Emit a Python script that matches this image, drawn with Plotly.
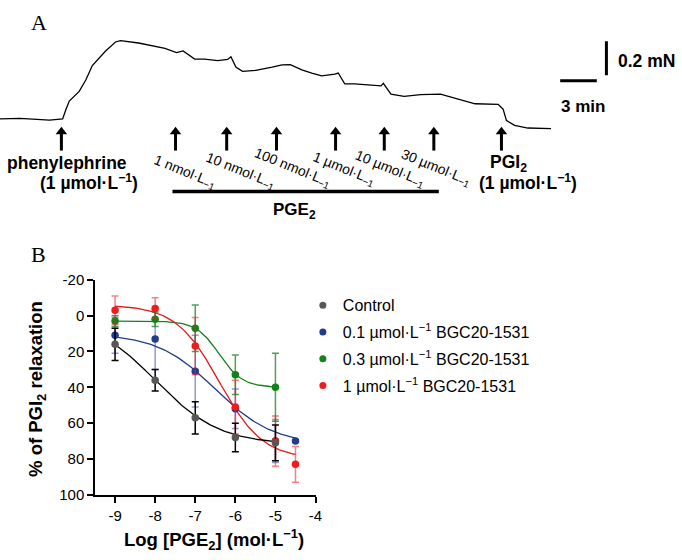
import numpy as np
import plotly.graph_objects as go

W, H = 682, 560

# ---------------- Panel A data: isometric tension trace ----------------
trace_time_min = [0.000, 1.622, 4.054, 5.133, 5.408, 5.676, 6.487, 7.030, 7.565, 8.651,
                  9.462, 9.868, 11.352, 12.430, 13.516, 14.457, 15.000, 15.949, 16.760, 17.838,
                  18.649, 18.917, 19.322, 19.865, 20.944, 22.298, 23.109, 23.782, 24.730, 25.541,
                  26.352, 27.431, 27.706, 28.241, 29.052, 30.139, 31.217, 31.403, 32.028, 33.106,
                  34.460, 36.082, 36.893, 37.566, 38.920, 40.809, 41.215, 41.490, 42.163, 43.242,
                  45.139]
trace_tension_mN = [0.000, 0.003, -0.008, 0.000, 0.057, 0.105, 0.162, 0.229, 0.314, 0.400,
                    0.453, 0.461, 0.447, 0.429, 0.415, 0.390, 0.400, 0.352, 0.352, 0.343,
                    0.350, 0.366, 0.305, 0.280, 0.286, 0.305, 0.318, 0.320, 0.289, 0.270,
                    0.253, 0.263, 0.270, 0.206, 0.206, 0.200, 0.194, 0.209, 0.146, 0.133,
                    0.143, 0.146, 0.129, 0.114, 0.089, 0.086, 0.057, -0.010, -0.038, -0.054,
                    -0.057]
addition_times_min = [5.03, 14.38, 18.57, 22.65, 27.49, 31.48, 35.54, 41.08]
pge2_labels = ["1 nmol·L<sub>−1</sub>", "10 nmol·L<sub>−1</sub>", "100 nmol·L<sub>−1</sub>",
               "1 µmol·L<sub>−1</sub>", "10 µmol·L<sub>−1</sub>", "30 µmol·L<sub>−1</sub>"]
pge2_period_min = [14.13, 35.95]
scale_time_min = 3
scale_tension_mN = 0.2

# ---------------- Panel B data: concentration-response ----------------
series_names = ["Control", "0.1 µmol·L<sup>−1</sup> BGC20-1531",
                "0.3 µmol·L<sup>−1</sup> BGC20-1531", "1 µmol·L<sup>−1</sup> BGC20-1531"]
control_x = [-9, -8, -7, -6, -5]
control_mean = [16, 36, 57, 68, 71]
control_sem = [9, 6, 9, 8, 10]
bgc01_x = [-9, -8, -7, -6, -5, -4.5]
bgc01_mean = [11, 13, 31, 52, 70, 70]
bgc01_sem = [10, 17, 20, 11, 12, 0]
bgc03_x = [-9, -8, -7, -6, -5]
bgc03_mean = [3, 2, 7, 33, 40]
bgc03_sem = [3, 4, 13, 11, 19]
bgc1_x = [-9, -8, -7, -6, -5, -4.5]
bgc1_mean = [-3, -4, 17, 51, 70, 83]
bgc1_sem = [8, 6, 16, 15, 14, 10]
# fitted sigmoid parameters: bottom, top, logEC50, Hill slope
control_fit = [0, 72, -8.0, 0.54]
bgc01_fit = [10, 72, -6.5, 0.6]
bgc03_fit = [3, 40, -6.4, 1.5]
bgc1_fit = [-6, 80, -6.4, 0.8]
x_ticks = [-9, -8, -7, -6, -5, -4]
y_ticks = [-20, 0, 20, 40, 60, 80, 100]

# ---------------- styles / layout constants ----------------
FONT = "Liberation Sans, Arial, sans-serif"
SERIF = "Liberation Serif, Times New Roman, serif"
PX_PER_MIN = 37 / 3
PX_PER_MN = 175.0
BASE_Y_PX = 113.3


def ty(px):
    return (BASE_Y_PX - px) / PX_PER_MN


def tx(px):
    return px / PX_PER_MIN


def px_x(px):
    return px / W


def px_y(px):
    return 1 - px / H


fig = go.Figure()

# Panel A trace
fig.add_trace(go.Scatter(x=trace_time_min, y=trace_tension_mN, mode="lines",
                         line=dict(color="black", width=1.3), xaxis="x2", yaxis="y2",
                         showlegend=False, hoverinfo="skip"))
# arrows
sx, sy = [], []
for t in addition_times_min:
    sx += [t, t, None]
    sy += [ty(128), ty(146), None]
fig.add_trace(go.Scatter(x=sx, y=sy, mode="lines", line=dict(color="black", width=3),
                         xaxis="x2", yaxis="y2", showlegend=False, hoverinfo="skip"))
fig.add_trace(go.Scatter(x=addition_times_min, y=[ty(126.5)] * len(addition_times_min),
                         mode="markers", marker=dict(symbol="triangle-up", size=10, color="black"),
                         xaxis="x2", yaxis="y2", showlegend=False, hoverinfo="skip"))
# PGE2 bar
fig.add_trace(go.Scatter(x=pge2_period_min, y=[ty(188.3)] * 2, mode="lines",
                         line=dict(color="black", width=3.5), xaxis="x2", yaxis="y2",
                         showlegend=False, hoverinfo="skip"))
# scale bars
vb_x = tx(612.7)
vb_top = ty(33.3)
fig.add_trace(go.Scatter(x=[vb_x, vb_x], y=[vb_top, vb_top - scale_tension_mN], mode="lines",
                         line=dict(color="black", width=3), xaxis="x2", yaxis="y2",
                         showlegend=False, hoverinfo="skip"))
hb_x0 = tx(566)
fig.add_trace(go.Scatter(x=[hb_x0, hb_x0 + scale_time_min], y=[ty(74)] * 2, mode="lines",
                         line=dict(color="black", width=3), xaxis="x2", yaxis="y2",
                         showlegend=False, hoverinfo="skip"))

# Panel B
series = [
    (bgc01_x, bgc01_mean, bgc01_sem, bgc01_fit, "#1f3c8f", "#1f3c8f", "rgba(31,60,143,0.5)"),
    (bgc03_x, bgc03_mean, bgc03_sem, bgc03_fit, "#13821b", "#13821b", "rgba(19,130,27,0.75)"),
    (bgc1_x, bgc1_mean, bgc1_sem, bgc1_fit, "#ee1c1c", "#e81818", "rgba(238,28,28,0.55)"),
    (control_x, control_mean, control_sem, control_fit, "#575757", "black", "black"),
]


def sigmoid(x, p):
    b, t, ec, h = p
    return b + (t - b) / (1 + 10 ** ((ec - x) * h))


for xs, m, e, p, pc, cc, ec in series:
    xx = np.linspace(min(xs), max(xs), 120)
    fig.add_trace(go.Scatter(x=xx, y=sigmoid(xx, p), mode="lines",
                             line=dict(color=cc, width=1.3), showlegend=False, hoverinfo="skip"))
for xs, m, e, p, pc, cc, ec in series:
    fig.add_trace(go.Scatter(x=xs, y=m, mode="markers", marker=dict(size=7.5, color=pc),
                             error_y=dict(type="data", array=e, visible=True, color=ec,
                                          thickness=1.5, width=3.5),
                             showlegend=False))

legend_colors = ["#575757", "#1f3c8f", "#13821b", "#ee1c1c"]
for i, (name, col) in enumerate(zip(series_names, legend_colors)):
    fig.add_trace(go.Scatter(x=[None], y=[None], mode="markers", name=name,
                             marker=dict(size=7, color=col), legendgroup=f"g{i}"))

ann = []


def text(x, y, s, size, bold=False, xanchor="center", family=FONT, angle=0):
    if bold:
        s = f"<b>{s}</b>"
    ann.append(dict(x=px_x(x), y=px_y(y), xref="paper", yref="paper", text=s, showarrow=False,
                    xanchor=xanchor, yanchor="middle", textangle=angle,
                    font=dict(family=family, size=size, color="black")))


text(39, 14, "A", 22, family=SERIF)
text(38.5, 253, "B", 22, family=SERIF)
text(67.5, 159.3, "phenylephrine", 17.5, bold=True)
text(90, 178.3, "(1 µmol·L<sup>−1</sup>)", 17.5, bold=True)
text(514, 159.3, "PGI<sub>2</sub>", 17.5, bold=True)
text(533, 178.3, "(1 µmol·L<sup>−1</sup>)", 17.5, bold=True)
text(297.5, 208.3, "PGE<sub>2</sub>", 17, bold=True)
text(622, 53.3, "0.2 mN", 17.5, bold=True, xanchor="left")
text(565, 101, "3 min", 17, bold=True, xanchor="left")
label_centers = [(186.7, 168.3), (243.3, 166.7), (295.7, 164), (347.3, 165), (394, 165), (441, 164)]
for (cx, cy), lab in zip(label_centers, pge2_labels):
    text(cx, cy, lab, 14, angle=22)
text(216.5, 546.7, "Log [PGE<sub>2</sub>] (mol·L<sup>−1</sup>)", 18.5, bold=True)
text(36.7, 391.5, "% of PGI<sub>2</sub> relaxation", 18.5, bold=True, angle=-90)

axis_style = dict(showline=True, linecolor="black", linewidth=1.5, ticks="outside", ticklen=6,
                  tickwidth=1.5, tickcolor="black", showgrid=False, zeroline=False,
                  tickfont=dict(family=FONT, size=15, color="black"), fixedrange=True)

fig.update_layout(
    width=W, height=H, margin=dict(l=0, r=0, t=0, b=0),
    paper_bgcolor="white", plot_bgcolor="rgba(0,0,0,0)",
    xaxis=dict(domain=[px_x(96), px_x(318.8)], range=[-9.5, -4], tickvals=x_ticks,
               ticktext=[str(v) for v in x_ticks], anchor="y", **axis_style),
    yaxis=dict(domain=[px_y(501), px_y(279.3)], range=[100, -20], tickvals=y_ticks,
               ticktext=[str(v) for v in y_ticks], anchor="x", **axis_style),
    xaxis2=dict(domain=[0, 1], range=[0, W / PX_PER_MIN], visible=False, anchor="y2",
                fixedrange=True),
    yaxis2=dict(domain=[0, 1], range=[ty(H), ty(0)], visible=False, anchor="x2",
                fixedrange=True),
    showlegend=True,
    legend=dict(x=px_x(306), y=px_y(288), xanchor="left", yanchor="top",
                font=dict(family=FONT, size=16, color="black"), tracegroupgap=3,
                bgcolor="rgba(0,0,0,0)", itemclick=False, itemdoubleclick=False),
    annotations=ann,
)

fig.write_html("out.html", config={"displayModeBar": False},
               post_script="document.body.style.margin='0';")
